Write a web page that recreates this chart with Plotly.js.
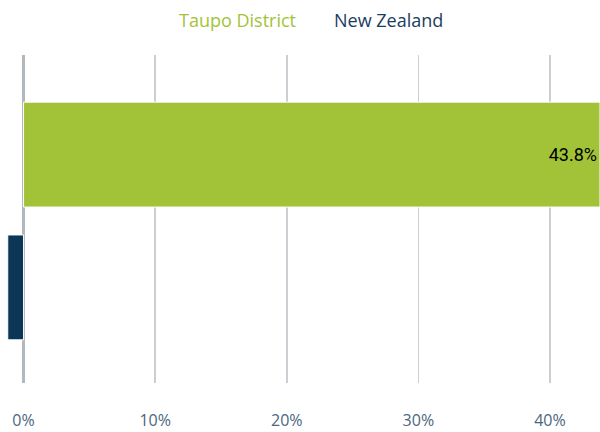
<!DOCTYPE html>
<html>
<head>
<meta charset="utf-8">
<script src="https://cdn.plot.ly/plotly-3.0.1.min.js"></script>
<style>html,body{margin:0;padding:0;background:#fff;}#chart{width:600px;height:432px;}</style>
</head>
<body>
<div id="chart"></div>
<script>
var categories = ["Taupo District", "New Zealand"];
var taupoValues = [43.8];
var nzValues = [-1.2];
var tickValues = [0, 10, 20, 30, 40];
var tickLabels = ["0%", "10%", "20%", "30%", "40%"];
var seriesNames = ["Taupo District", "New Zealand"];

var green = "#a2c338";
var navy = "#0b3656";

var traces = [
  {
    type: "bar", orientation: "h", name: seriesNames[0],
    y: [categories[0]], x: taupoValues, width: 0.79,
    marker: {color: green, line: {color: "#ffffff", width: 1}},
    text: taupoValues.map(function(v){return v.toFixed(1) + "%";}),
    textposition: "inside", insidetextanchor: "end",
    textfont: {color: "#000000", size: 18, family: "Roboto, sans-serif"},
    hoverinfo: "none"
  },
  {
    type: "bar", orientation: "h", name: seriesNames[1],
    y: [categories[1]], x: nzValues, width: 0.79,
    marker: {color: navy, line: {color: "#ffffff", width: 1}},
    hoverinfo: "none"
  }
];

var layout = {
  width: 600, height: 432,
  margin: {l: 0, r: 0, t: 55, b: 49},
  paper_bgcolor: "#ffffff", plot_bgcolor: "#ffffff",
  showlegend: false,
  barmode: "overlay",
  font: {family: "Open Sans, sans-serif"},
  xaxis: {
    range: [-1.79, 43.8],
    tickvals: tickValues, ticktext: tickLabels,
    showgrid: true, gridcolor: "#cbced2", gridwidth: 1.5,
    zeroline: true, zerolinecolor: "#b3b8bd", zerolinewidth: 3,
    showline: false, ticks: "",
    ticklabelstandoff: 26,
    tickfont: {size: 16, color: "#4a6680", family: "Open Sans, sans-serif"},
    fixedrange: true
  },
  yaxis: {
    type: "category", categoryarray: categories, categoryorder: "array",
    range: [1.72, -0.75],
    showticklabels: false, showgrid: false, zeroline: false, ticks: "",
    fixedrange: true
  },
  annotations: [
    {xref: "paper", yref: "paper", x: 0.396, y: 1, yshift: 35, text: seriesNames[0], showarrow: false,
     font: {size: 18, color: green, family: "Open Sans, sans-serif"}, xanchor: "center", yanchor: "middle"},
    {xref: "paper", yref: "paper", x: 0.647, y: 1, yshift: 35, text: seriesNames[1], showarrow: false,
     font: {size: 18, color: "#1b3d5d", family: "Open Sans, sans-serif"}, xanchor: "center", yanchor: "middle"}
  ]
};

Plotly.newPlot("chart", traces, layout, {displayModeBar: false, staticPlot: true});
</script>
</body>
</html>
